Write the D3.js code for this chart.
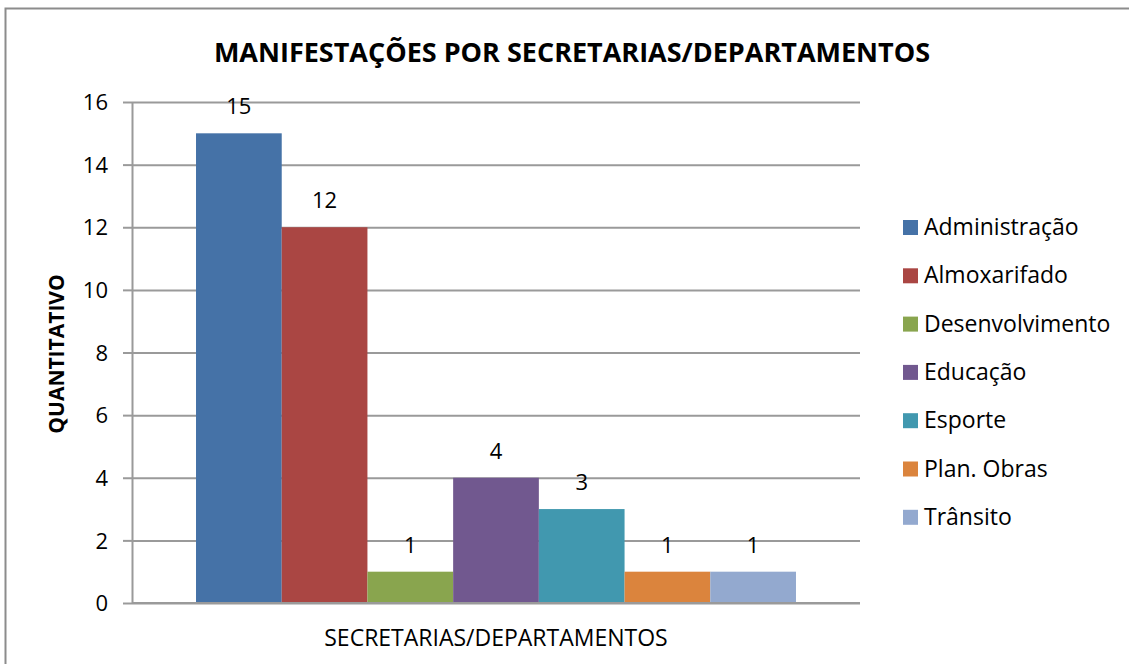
<!DOCTYPE html>
<html>
<head>
<meta charset="utf-8">
<script src="https://cdn.jsdelivr.net/npm/d3@7"></script>
<style>
  body { margin: 0; background: #fff; }
  svg text { font-family: "Open Sans", "Noto Sans", sans-serif; fill: #000; }
</style>
</head>
<body>
<div id="chart"></div>
<script>
// dados do grafico
var categoria = "SECRETARIAS/DEPARTAMENTOS";
var secretarias = ["Administração", "Almoxarifado", "Desenvolvimento", "Educação", "Esporte", "Plan. Obras", "Trânsito"];
var quantidades = [15, 12, 1, 4, 3, 1, 1];
var cores = ["#4572A7", "#AA4643", "#89A54E", "#71588F", "#4198AF", "#DB843D", "#93A9CF"];
var yTicks = [0, 2, 4, 6, 8, 10, 12, 14, 16];

var w = 1129, h = 664;
var plotLeft = 132, plotRight = 860, plotTop = 102, plotBottom = 603;

var svg = d3.select("#chart").append("svg")
    .attr("width", w)
    .attr("height", h);

// moldura
svg.append("rect")
    .attr("x", 5.5).attr("y", 8.5)
    .attr("width", w + 10).attr("height", h + 10)
    .attr("fill", "none")
    .attr("stroke", "#8c8c8c")
    .attr("stroke-width", 2);

var yScale = d3.scaleLinear().domain([0, 16]).range([plotBottom, plotTop]);
var x0 = d3.scaleBand().domain([categoria]).range([plotLeft, plotRight])
    .paddingInner(0).paddingOuter(0.1067);
var x1 = d3.scaleBand().domain(secretarias).range([0, x0.bandwidth()]).padding(0);

// grade horizontal
svg.append("g")
    .attr("class", "grid")
    .attr("transform", "translate(" + plotLeft + ",0)")
    .call(d3.axisLeft(yScale).tickValues(yTicks).tickSize(-(plotRight - plotLeft)).tickFormat(""))
    .call(g => g.select(".domain").remove())
    .call(g => g.selectAll("line").attr("stroke", "#9a9a9a").attr("stroke-width", 2));

// eixo y
var yAxis = svg.append("g")
    .attr("transform", "translate(" + plotLeft + ",0)")
    .call(d3.axisLeft(yScale).tickValues(yTicks).tickSize(9).tickPadding(15).tickSizeOuter(0));
yAxis.select(".domain").attr("stroke", "#9a9a9a").attr("stroke-width", 2);
yAxis.selectAll("line").attr("stroke", "#9a9a9a").attr("stroke-width", 2);
yAxis.selectAll("text").style("font-size", "22px").attr("dy", "0.35em")
    .style("font-family", "'Open Sans', sans-serif");

// barras
var grupo = svg.append("g").attr("transform", "translate(" + x0(categoria) + ",0)");
grupo.selectAll("rect")
    .data(quantidades)
    .enter().append("rect")
    .attr("x", (d, i) => x1(secretarias[i]))
    .attr("y", d => yScale(d))
    .attr("width", x1.bandwidth())
    .attr("height", d => plotBottom - yScale(d))
    .attr("fill", (d, i) => cores[i]);

// eixo x (linha base)
svg.append("line")
    .attr("x1", plotLeft).attr("x2", plotRight)
    .attr("y1", plotBottom).attr("y2", plotBottom)
    .attr("stroke", "#9a9a9a").attr("stroke-width", 2);

// rotulos de dados
grupo.selectAll("text.valor")
    .data(quantidades)
    .enter().append("text")
    .attr("class", "valor")
    .attr("x", (d, i) => x1(secretarias[i]) + x1.bandwidth() / 2)
    .attr("y", d => yScale(d) - 19)
    .attr("text-anchor", "middle")
    .style("font-size", "22px")
    .text(d => d);

// titulo
svg.append("text")
    .attr("x", 572).attr("y", 62)
    .attr("text-anchor", "middle")
    .style("font-size", "27px")
    .style("font-weight", "bold")
    .text("MANIFESTAÇÕES POR SECRETARIAS/DEPARTAMENTOS");

// titulo eixo x
svg.append("text")
    .attr("x", (plotLeft + plotRight) / 2).attr("y", 646)
    .attr("text-anchor", "middle")
    .style("font-size", "23px")
    .text(categoria);

// titulo eixo y
svg.append("text")
    .attr("transform", "translate(64,354) rotate(-90)")
    .attr("text-anchor", "middle")
    .style("font-size", "21px")
    .style("font-weight", "bold")
    .text("QUANTITATIVO");

// legenda
var legenda = svg.append("g").attr("transform", "translate(903,227)");
var item = legenda.selectAll("g")
    .data(secretarias)
    .enter().append("g")
    .attr("transform", (d, i) => "translate(0," + (i * 48.3) + ")");
item.append("rect")
    .attr("x", 0).attr("y", -7)
    .attr("width", 15).attr("height", 15)
    .attr("fill", (d, i) => cores[i]);
item.append("text")
    .attr("x", 21).attr("y", 0)
    .attr("dy", "0.35em")
    .style("font-size", "23px")
    .text(d => d);
</script>
</body>
</html>
